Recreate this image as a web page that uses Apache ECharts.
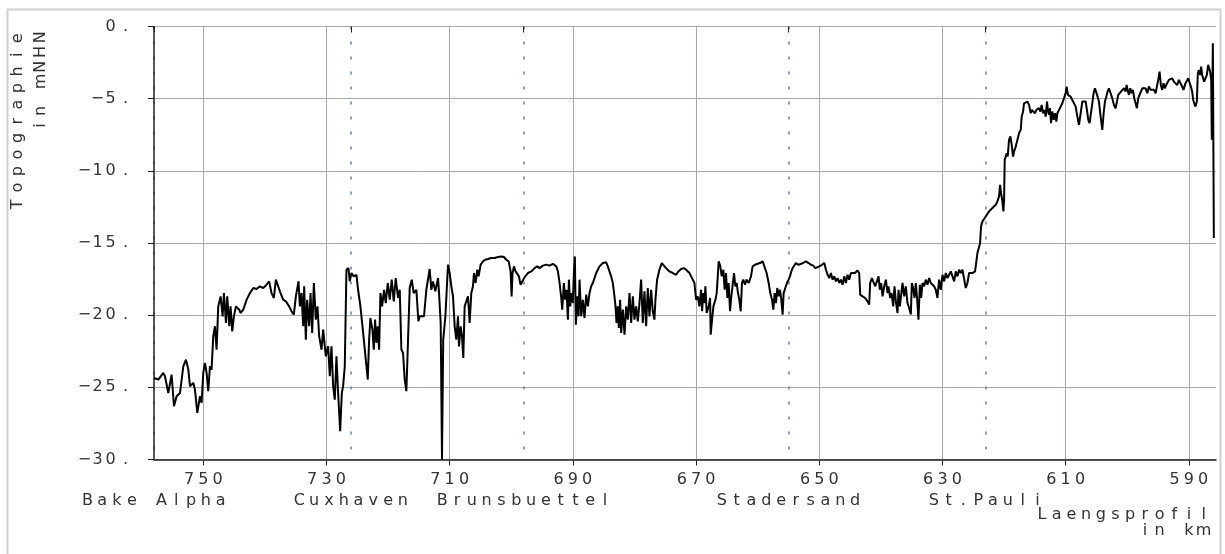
<!DOCTYPE html>
<html><head><meta charset="utf-8">
<script src="https://cdn.jsdelivr.net/npm/echarts@6/dist/echarts.min.js"></script>
<style>
html,body{margin:0;padding:0;background:#fff;}
#chart{position:absolute;left:0;top:0;width:1225px;height:554px;}
</style></head><body><div id="chart"></div>
<script>
// Longitudinal profile: [river km, topography in m NHN]
const profilePoints = [
[758.00,-24.35],[757.30,-24.46],[756.49,-24.00],[756.22,-24.23],[755.68,-25.39],[755.14,-24.12],[754.76,-26.31],[754.33,-25.62],[753.78,-25.39],[753.24,-23.54],
[752.81,-23.08],[752.43,-23.77],[752.16,-24.92],[751.62,-24.69],[751.35,-25.16],[750.97,-26.77],[750.54,-25.62],[750.27,-26.08],[750.00,-24.00],[749.73,-23.31],
[749.46,-24.00],[749.19,-25.27],[748.92,-23.54],[748.65,-23.77],[748.38,-21.46],[748.11,-20.77],[747.84,-22.39],[747.57,-19.39],[747.19,-18.70],[746.86,-20.08],
[746.65,-18.47],[746.32,-20.54],[746.11,-18.70],[745.78,-20.77],[745.57,-19.39],[745.30,-21.12],[745.03,-20.08],[744.70,-19.39],[744.49,-19.27],[744.16,-19.62],
[743.95,-19.85],[743.51,-19.62],[742.97,-18.93],[742.43,-18.47],[741.89,-18.12],[741.35,-18.19],[740.81,-18.00],[740.27,-18.12],[739.73,-17.89],[739.30,-17.66],
[738.92,-18.47],[738.54,-18.81],[738.22,-17.54],[737.84,-18.00],[737.46,-18.47],[737.03,-18.93],[736.60,-19.04],[736.06,-19.39],[735.68,-19.73],[735.30,-19.96],
[734.97,-18.70],[734.54,-17.66],[734.32,-19.39],[734.05,-18.47],[733.78,-20.77],[733.62,-18.00],[733.35,-21.70],[733.14,-18.93],[732.81,-20.77],[732.59,-18.47],
[732.32,-21.23],[732.05,-17.77],[731.73,-20.31],[731.46,-19.39],[731.19,-21.46],[730.81,-22.39],[730.54,-21.00],[730.11,-22.85],[729.73,-22.16],[729.46,-24.23],
[729.19,-22.16],[728.92,-24.92],[728.65,-25.85],[728.38,-22.85],[728.11,-25.39],[727.78,-28.04],[727.51,-25.39],[727.30,-24.92],[727.03,-23.54],[726.76,-16.85],
[726.43,-16.74],[726.22,-17.66],[725.95,-17.08],[725.57,-17.31],[725.14,-17.20],[724.87,-18.24],[724.49,-19.39],[724.05,-21.23],[723.78,-22.39],[723.51,-23.54],
[723.30,-24.46],[723.08,-21.70],[722.87,-20.20],[722.54,-21.00],[722.32,-22.39],[722.11,-20.31],[721.89,-21.93],[721.68,-20.77],[721.46,-22.39],[721.24,-18.47],
[720.97,-19.39],[720.65,-18.24],[720.38,-19.16],[720.05,-17.77],[719.73,-18.93],[719.41,-17.54],[719.08,-19.04],[718.76,-17.43],[718.38,-18.81],[718.11,-18.24],
[717.84,-22.39],[717.57,-22.62],[717.30,-24.46],[717.03,-25.27],[716.76,-21.70],[716.49,-18.12],[716.16,-17.54],[715.84,-18.47],[715.41,-18.24],[715.08,-20.43],
[714.87,-20.08],[714.60,-20.20],[714.17,-20.08],[713.79,-18.24],[713.25,-16.80],[712.98,-18.24],[712.71,-17.66],[712.33,-18.35],[711.89,-17.43],[711.73,-18.47],
[711.46,-20.54],[711.25,-30.00],[711.05,-21.70],[710.70,-20.08],[710.27,-16.50],[710.00,-17.08],[709.73,-18.00],[709.46,-18.70],[709.19,-20.77],[708.92,-21.70],
[708.65,-20.08],[708.49,-22.16],[708.22,-20.77],[708.00,-21.46],[707.79,-22.96],[707.57,-19.39],[707.30,-19.04],[707.03,-18.70],[706.76,-20.54],[706.49,-18.47],
[706.22,-18.00],[706.06,-17.08],[705.79,-17.77],[705.52,-16.85],[705.30,-17.31],[704.98,-16.50],[704.60,-16.27],[704.22,-16.16],[703.79,-16.11],[703.25,-16.04],
[702.71,-16.04],[702.16,-15.97],[701.62,-15.93],[701.19,-15.97],[700.81,-16.16],[700.43,-16.27],[700.11,-16.97],[699.95,-18.70],[699.79,-17.08],[699.57,-16.62],
[699.30,-16.97],[699.03,-17.08],[698.76,-17.31],[698.49,-17.89],[698.27,-18.00],[698.06,-17.54],[697.73,-17.31],[697.30,-17.08],[696.76,-16.97],[696.22,-16.74],
[695.79,-16.62],[695.41,-16.74],[694.87,-16.57],[694.33,-16.50],[693.79,-16.57],[693.25,-16.44],[692.70,-16.62],[692.43,-16.97],[692.16,-17.77],[691.89,-18.81],
[691.73,-19.62],[691.46,-17.77],[691.25,-18.93],[691.03,-18.24],[690.81,-20.31],[690.65,-17.54],[690.43,-19.39],[690.27,-18.47],[690.00,-19.16],[689.84,-17.08],
[689.68,-15.93],[689.52,-20.66],[689.30,-18.70],[689.08,-20.08],[688.92,-17.54],[688.65,-20.08],[688.38,-18.93],[688.11,-20.20],[687.84,-18.58],[687.57,-19.39],
[687.30,-18.47],[687.03,-18.00],[686.76,-17.77],[686.49,-17.43],[686.22,-17.08],[685.95,-16.85],[685.68,-16.62],[685.41,-16.57],[685.14,-16.39],[684.87,-16.51],
[684.60,-16.34],[684.33,-16.62],[684.06,-16.97],[683.79,-17.31],[683.52,-17.77],[683.25,-18.70],[683.08,-19.39],[682.92,-20.54],[682.71,-19.39],[682.54,-20.89],
[682.33,-18.93],[682.16,-21.23],[681.89,-19.62],[681.62,-21.35],[681.35,-19.39],[681.08,-20.31],[680.81,-18.47],[680.54,-20.54],[680.27,-18.70],[680.00,-20.31],
[679.73,-19.39],[679.46,-20.43],[679.19,-19.16],[678.92,-17.54],[678.65,-20.54],[678.38,-18.35],[678.11,-20.77],[677.84,-18.12],[677.57,-20.08],[677.30,-18.24],
[677.03,-19.73],[676.76,-20.31],[676.60,-18.93],[676.33,-17.54],[675.95,-16.85],[675.57,-16.39],[675.25,-16.44],[674.87,-16.74],[674.33,-16.97],[673.79,-17.08],
[673.25,-17.20],[672.87,-16.97],[672.43,-16.80],[672.00,-16.74],[671.62,-16.85],[671.08,-17.08],[670.54,-17.54],[670.27,-17.77],[670.00,-18.93],[669.73,-18.70],
[669.46,-19.39],[669.19,-18.24],[669.03,-19.73],[668.82,-18.47],[668.65,-19.16],[668.49,-18.00],[668.28,-19.85],[667.95,-19.39],[667.73,-18.81],[667.63,-21.35],
[667.41,-20.31],[667.19,-19.39],[666.87,-18.93],[666.65,-18.47],[666.33,-16.27],[666.06,-16.62],[665.84,-17.31],[665.57,-16.85],[665.36,-18.24],[665.14,-17.08],
[664.92,-18.81],[664.71,-17.77],[664.49,-19.73],[664.28,-18.70],[664.06,-17.89],[663.84,-17.08],[663.63,-18.00],[663.41,-17.77],[663.20,-18.47],[662.98,-18.93],
[662.76,-19.73],[662.55,-17.77],[662.33,-17.54],[662.06,-17.89],[661.79,-17.54],[661.46,-17.77],[661.09,-17.31],[660.82,-16.62],[660.44,-16.51],[660.00,-16.44],
[659.63,-16.39],[659.19,-16.27],[658.87,-16.39],[658.55,-17.08],[658.22,-17.77],[657.95,-18.47],[657.68,-18.93],[657.46,-19.62],[657.25,-18.47],[657.03,-19.16],
[656.82,-18.12],[656.60,-18.70],[656.38,-18.24],[656.17,-18.93],[655.95,-19.96],[655.79,-18.47],[655.52,-18.12],[655.25,-17.77],[654.98,-17.54],[654.76,-17.31],
[654.54,-16.97],[654.33,-16.74],[654.06,-16.62],[653.79,-16.39],[653.36,-16.51],[652.92,-16.44],[652.60,-16.39],[652.17,-16.27],[651.74,-16.39],[651.36,-16.51],
[650.98,-16.57],[650.65,-16.74],[650.38,-16.85],[650.00,-16.62],[649.57,-16.51],[649.19,-16.39],[648.92,-16.85],[648.65,-17.20],[648.38,-17.43],[648.11,-17.08],
[647.84,-17.54],[647.57,-17.31],[647.30,-17.66],[647.03,-17.43],[646.76,-17.77],[646.49,-17.54],[646.22,-17.89],[645.95,-17.31],[645.68,-17.77],[645.41,-17.20],
[645.14,-17.54],[644.87,-17.08],[644.60,-16.97],[644.22,-17.08],[643.79,-16.90],[643.52,-17.08],[643.36,-18.58],[642.98,-18.70],[642.55,-18.81],[642.17,-19.04],
[641.90,-19.27],[641.74,-17.77],[641.46,-17.43],[641.19,-17.54],[640.92,-18.00],[640.65,-17.66],[640.38,-17.31],[640.17,-18.24],[639.95,-17.77],[639.73,-18.70],
[639.46,-18.00],[639.19,-17.54],[638.92,-18.47],[638.76,-18.00],[638.49,-18.81],[638.27,-18.47],[638.00,-19.39],[637.79,-18.00],[637.57,-19.04],[637.30,-19.85],
[637.14,-18.24],[636.92,-19.39],[636.71,-18.58],[636.49,-17.77],[636.22,-18.70],[635.95,-18.00],[635.68,-19.16],[635.41,-19.50],[635.14,-19.96],[634.98,-17.77],
[634.76,-18.12],[634.54,-18.81],[634.33,-17.77],[634.11,-18.93],[633.90,-20.31],[633.68,-17.89],[633.46,-18.81],[633.25,-17.77],[632.98,-18.00],[632.71,-17.54],
[632.44,-17.89],[632.17,-17.43],[631.90,-17.77],[631.63,-17.66],[631.36,-18.00],[631.09,-18.24],[630.82,-18.81],[630.55,-17.54],[630.28,-18.24],[630.00,-17.20],
[629.73,-17.66],[629.46,-17.08],[629.19,-17.43],[628.92,-17.20],[628.65,-16.97],[628.38,-17.31],[628.11,-17.66],[627.84,-16.97],[627.57,-17.31],[627.30,-16.85],
[627.03,-17.08],[626.76,-16.85],[626.49,-16.97],[626.22,-18.12],[625.95,-17.77],[625.68,-17.08],[625.41,-16.97],[625.14,-17.08],[624.71,-16.97],[624.49,-16.85],
[624.33,-15.70],[624.06,-15.58],[623.90,-15.01],[623.74,-13.85],[623.52,-13.51],[623.25,-13.39],[622.98,-13.16],[622.71,-13.04],[622.44,-12.81],[622.17,-12.70],
[621.90,-12.58],[621.63,-12.47],[621.35,-12.35],[621.09,-12.12],[620.82,-11.78],[620.65,-10.97],[620.49,-11.55],[620.28,-12.12],[620.11,-12.81],[620.00,-12.01],
[619.90,-9.24],[619.74,-9.12],[619.57,-8.78],[619.41,-9.01],[619.20,-7.85],[618.98,-7.62],[618.76,-8.20],[618.55,-9.01],[618.38,-8.66],[618.11,-8.32],
[617.84,-8.20],[617.57,-7.39],[617.30,-7.16],[617.14,-6.24],[616.92,-5.89],[616.76,-5.32],[616.49,-5.20],[616.22,-5.20],[615.95,-5.43],[615.68,-6.01],
[615.52,-5.78],[615.30,-5.89],[614.98,-6.01],[614.76,-5.78],[614.55,-5.89],[614.33,-5.66],[614.11,-5.89],[613.90,-5.43],[613.68,-6.01],[613.47,-5.78],
[613.25,-6.24],[613.03,-5.20],[612.87,-5.89],[612.71,-6.12],[612.55,-5.66],[612.38,-6.70],[612.17,-5.89],[611.95,-6.47],[611.74,-6.01],[611.52,-6.59],
[611.35,-6.01],[611.09,-5.89],[610.82,-5.55],[610.55,-5.32],[610.28,-5.20],[610.01,-4.62],[609.85,-4.16],[609.63,-4.74],[609.41,-4.62],[609.20,-4.86],
[608.93,-5.09],[608.66,-4.97],[608.38,-5.55],[608.11,-6.24],[607.84,-6.82],[607.57,-6.01],[607.30,-5.20],[606.98,-5.09],[606.76,-5.20],[606.55,-5.78],
[606.33,-6.47],[606.12,-6.70],[605.90,-6.01],[605.68,-5.32],[605.47,-4.62],[605.25,-4.28],[605.03,-4.39],[604.82,-4.86],[604.60,-5.20],[604.33,-6.24],
[604.06,-7.16],[603.84,-6.01],[603.63,-5.20],[603.41,-4.86],[603.20,-4.51],[602.98,-4.28],[602.71,-4.39],[602.44,-4.97],[602.17,-5.43],[601.90,-5.66],
[601.68,-5.20],[601.47,-4.74],[601.25,-4.86],[601.03,-4.51],[600.82,-4.39],[600.55,-4.28],[600.28,-4.51],[600.11,-4.05],[599.95,-4.39],[599.74,-4.74],
[599.52,-4.28],[599.30,-4.62],[599.09,-4.39],[598.87,-4.97],[598.66,-5.09],[598.44,-5.66],[598.22,-4.97],[598.01,-4.74],[597.79,-4.51],[597.57,-4.28],
[597.30,-4.39],[597.03,-4.28],[596.76,-4.62],[596.49,-4.16],[596.22,-4.39],[595.95,-4.28],[595.68,-4.39],[595.41,-4.62],[595.14,-4.74],[594.98,-3.70],
[594.76,-3.13],[594.55,-4.05],[594.33,-4.39],[594.12,-3.93],[593.90,-4.28],[593.68,-4.05],[593.47,-3.93],[593.25,-3.70],[592.98,-3.82],[592.71,-3.59],
[592.44,-3.82],[592.17,-3.70],[591.90,-4.05],[591.63,-3.70],[591.36,-3.93],[591.09,-4.16],[590.87,-4.39],[590.55,-3.93],[590.33,-3.82],[590.11,-3.59],
[589.90,-3.70],[589.68,-4.16],[589.47,-4.51],[589.30,-5.09],[589.14,-5.32],[588.93,-5.55],[588.71,-5.20],[588.55,-3.24],[588.39,-3.01],[588.17,-3.36],
[588.01,-2.78],[587.85,-3.36],[587.68,-3.47],[587.52,-3.82],[587.30,-3.70],[587.09,-3.36],[586.87,-2.66],[586.70,-2.55],[586.55,-3.13],[586.38,-3.70],
[586.28,-7.85],[586.11,-1.16],[585.95,-14.66]
];
const xTickValues = [750, 730, 710, 690, 670, 650, 630, 610, 590];
const yGridValues = [-5, -10, -15, -20, -25];
const stationKm = [758, 726, 698, 655, 623];
const stationNames = ['Bake Alpha', 'Cuxhaven', 'Brunsbuettel', 'Stadersand', 'St.Pauli'];
const xAxisTitle = ['Laengsprofil', 'in km'];
const yAxisTitle = ['Topographie', 'in mNHN'];
const X_MIN = 585.6, X_MAX = 758, Y_MIN = -30, Y_MAX = 0, Y_STEP = 5;

const FONT = 'DejaVu Sans';
const TXT = '#333333';
const GRID = '#a3a9b2';
function pitch(str, key) {
  return str.split('').map(c => '{' + key + '|' + c + '}').join('');
}
function cell(w, extra) {
  return Object.assign({width: w, align: 'center', fontSize: 16, fontFamily: FONT, color: TXT, fill: TXT}, extra || {});
}

const chart = echarts.init(document.getElementById('chart'), null, {renderer: 'canvas'});
const padded = ' '.repeat(xAxisTitle[0].length - xAxisTitle[1].length) + xAxisTitle[1];
const gridMarks = xTickValues.map(v => ({xAxis: v}));

chart.setOption({
  animation: false,
  backgroundColor: '#ffffff',
  grid: {left: 154, right: 9, top: 26.5, bottom: 94.5, containLabel: false, outerBoundsMode: 'none'},
  xAxis: [{
    type: 'value', min: X_MIN, max: X_MAX, inverse: true, position: 'bottom',
    axisLine: {show: true, onZero: false, lineStyle: {color: '#222', width: 1.5}},
    axisTick: {show: true, length: 6, customValues: xTickValues, lineStyle: {color: '#222', width: 1}},
    splitLine: {show: true, lineStyle: {color: GRID, width: 1, type: 'solid'}},
    axisLabel: {customValues: xTickValues, margin: 12, formatter: v => pitch(String(v), 'd'),
      rich: {d: cell(14.3)}}
  }, {
    type: 'value', min: X_MIN, max: X_MAX, inverse: true, position: 'bottom', offset: 0,
    axisLine: {show: false},
    axisTick: {show: true, length: 6, customValues: stationKm, lineStyle: {color: '#222', width: 1}},
    splitLine: {show: true, lineStyle: {color: '#6d7f98', width: 1.5, type: [3, 12]}},
    axisLabel: {customValues: stationKm, margin: 33,
      formatter: v => pitch(stationNames[stationKm.indexOf(v)], 's'),
      rich: {s: cell(14.8)}}
  }],
  yAxis: {
    type: 'value', min: Y_MIN, max: Y_MAX, interval: Y_STEP,
    axisLine: {show: true, onZero: false, lineStyle: {color: '#222', width: 1.5}},
    axisTick: {show: true, length: 6, lineStyle: {color: '#222'}},
    splitLine: {show: true, lineStyle: {color: GRID, width: 1, type: 'solid'}},
    axisLabel: {margin: 26,
      formatter: v => pitch(v === 0 ? '0' : String(v).replace('-', '\u2212'), 'd') + '{p|.}',
      rich: {d: cell(13), p: cell(11, {align: 'right'})}}
  },
  series: [{
    type: 'line', z: 3, data: profilePoints, showSymbol: false, symbol: 'none', sampling: 'none',
    lineStyle: {color: '#000', width: 2}, silent: true,
    markLine: {silent: true, symbol: ['none', 'none'], label: {show: false}, z: 1, animation: false,
      lineStyle: {color: GRID, width: 1, type: 'solid'}, emphasis: {disabled: true}, data: gridMarks}
  }],
  graphic: [
    {type: 'rect', left: 5, top: 7, z: -10, silent: true,
      shape: {x: 0, y: 0, width: 1213, height: 560},
      style: {fill: 'none', stroke: '#cfcfcf', lineWidth: 2}},
    {type: 'text', x: 18, y: 30, rotation: Math.PI / 2,
      style: {text: pitch(yAxisTitle[0], 't'), rich: {t: cell(16.6)}, align: 'right', verticalAlign: 'middle', textAlign: 'right', textVerticalAlign: 'middle'}},
    {type: 'text', x: 41, y: 30, rotation: Math.PI / 2,
      style: {text: pitch(yAxisTitle[1], 't'), rich: {t: cell(14.7)}, align: 'right', verticalAlign: 'middle', textAlign: 'right', textVerticalAlign: 'middle'}},
    {type: 'text', x: 1211, y: 507,
      style: {text: pitch(xAxisTitle[0], 'n') + '\n' + pitch(padded, 'n'), rich: {n: cell(14.7, {lineHeight: 16})},
        align: 'right', verticalAlign: 'top', textAlign: 'right', textVerticalAlign: 'top'}}
  ]
});
</script></body></html>
